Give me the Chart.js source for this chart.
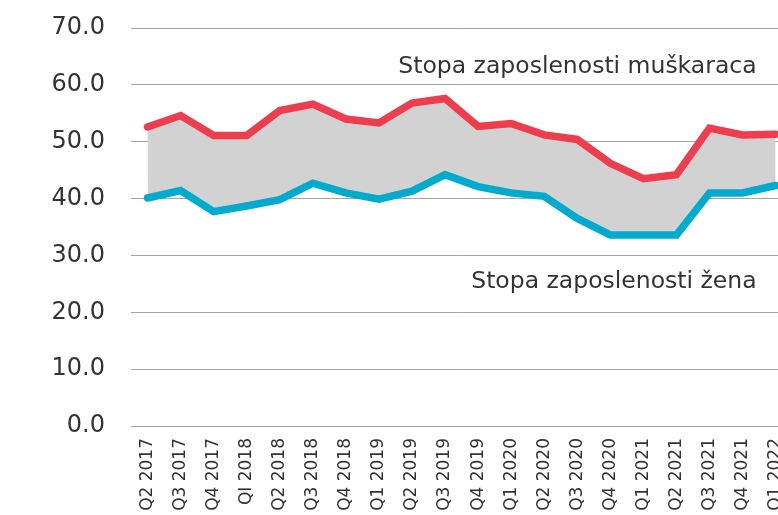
<!DOCTYPE html>
<html>
<head>
<meta charset="utf-8">
<script src="https://cdn.jsdelivr.net/npm/chart.js@4"></script>
<style>
  html, body { margin: 0; padding: 0; background: #fff; overflow: hidden; }
  #wrap { width: 808px; height: 515px; }
</style>
</head>
<body>
<div id="wrap"><canvas id="chart" width="808" height="515"></canvas></div>
<script>
// podaci
const quarters = ['Q2 2017', 'Q3 2017', 'Q4 2017', 'QI 2018', 'Q2 2018', 'Q3 2018', 'Q4 2018', 'Q1 2019',
  'Q2 2019', 'Q3 2019', 'Q4 2019', 'Q1 2020', 'Q2 2020', 'Q3 2020', 'Q4 2020', 'Q1 2021',
  'Q2 2021', 'Q3 2021', 'Q4 2021', 'Q1 2022'];
const muskarci = [52.6, 54.6, 51.1, 51.1, 55.5, 56.6, 54.0, 53.3, 56.8, 57.6, 52.7, 53.2, 51.2, 50.4, 46.2, 43.5, 44.2, 52.4, 51.2, 51.3];
const zene = [40.1, 41.4, 37.7, 38.7, 39.8, 42.7, 41.0, 39.9, 41.3, 44.2, 42.1, 41.0, 40.4, 36.5, 33.6, 33.6, 33.6, 41.0, 41.0, 42.3];
const yTicks = [0, 10, 20, 30, 40, 50, 60, 70];

// natpisi uz linije: tekst i visina (vrijednost na osi y)
const lineLabels = ['Stopa zaposlenosti muškaraca', 'Stopa zaposlenosti žena'];
const lineLabelValues = [62.0, 24.3];

const FONT = 'DejaVu Sans';

// crta natpise desno poravnate, pozicije preko skala
const lineLabelPlugin = {
  id: 'lineLabels',
  afterDatasetsDraw(chart) {
    const { ctx, scales } = chart;
    const xRight = scales.x.getPixelForValue(quarters.length - 1) - 19;
    ctx.save();
    ctx.font = '23.5px "' + FONT + '"';
    ctx.fillStyle = '#333333';
    ctx.textAlign = 'right';
    ctx.textBaseline = 'alphabetic';
    lineLabels.forEach((txt, i) => {
      ctx.fillText(txt, xRight, scales.y.getPixelForValue(lineLabelValues[i]));
    });
    ctx.restore();
  }
};

const ctx = document.getElementById('chart').getContext('2d');
const myChart = new Chart(ctx, {
  type: 'line',
  data: {
    labels: quarters,
    datasets: [
      {
        label: lineLabels[0],
        data: muskarci,
        borderColor: '#ee3d4c',
        backgroundColor: '#d2d2d2',
        borderWidth: 7.5,
        fill: '+1',
        pointRadius: 0,
        tension: 0,
        borderCapStyle: 'round',
        borderJoinStyle: 'miter',
      },
      {
        label: lineLabels[1],
        data: zene,
        borderColor: '#00abcd',
        borderWidth: 7.5,
        fill: false,
        pointRadius: 0,
        tension: 0,
        borderCapStyle: 'round',
        borderJoinStyle: 'miter',
      },
    ],
  },
  options: {
    responsive: false,
    animation: false,
    layout: { padding: { top: 28, left: 0, right: 0, bottom: 0 } },
    plugins: {
      legend: { display: false },
      tooltip: { enabled: false },
      filler: { drawTime: 'beforeDatasetsDraw' },
    },
    scales: {
      x: {
        offset: true,
        grid: { display: false, drawTicks: false },
        border: { display: false },
        ticks: {
          autoSkip: false,
          minRotation: 90,
          maxRotation: 90,
          padding: 12,
          color: '#333333',
          font: { family: FONT, size: 17 },
        },
        afterFit(scale) { scale.height = 89; },
      },
      y: {
        min: 0,
        max: 70,
        grid: { color: '#a3a3a3', lineWidth: 1, drawTicks: false },
        border: { display: false },
        afterBuildTicks(scale) { scale.ticks = yTicks.map(v => ({ value: v })); },
        ticks: {
          padding: 26,
          color: '#333333',
          font: { family: FONT, size: 24 },
          callback: v => v.toFixed(1),
        },
        afterFit(scale) {
          scale.width = 131;
          scale.paddingTop = 0;
          scale.paddingBottom = 0;
        },
      },
    },
  },
  plugins: [lineLabelPlugin],
});
</script>
</body>
</html>
